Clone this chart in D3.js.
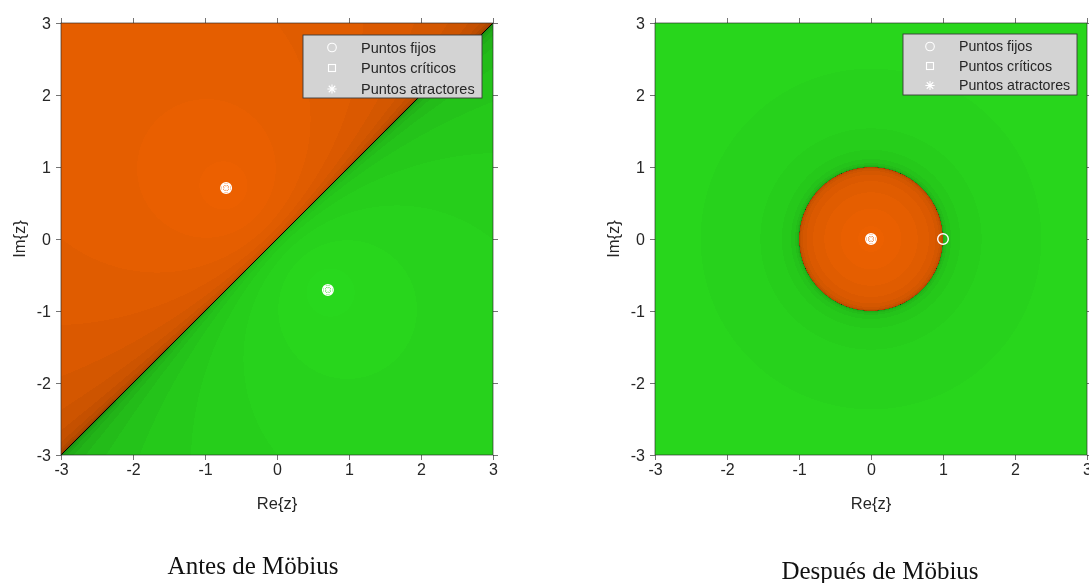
<!DOCTYPE html>
<html>
<head>
<meta charset="utf-8">
<script src="https://cdn.jsdelivr.net/npm/d3@7"></script>
<style>
  body { margin: 0; background: #fff; }
  #wrap { position: relative; width: 1089px; height: 583px; overflow: hidden; background: #fff; }
  #wrap canvas, #wrap svg { position: absolute; left: 0; top: 0; }
</style>
</head>
<body>
<div id="wrap">
  <canvas id="basins" width="1089" height="583"></canvas>
  <svg id="chart" width="1089" height="583"></svg>
</div>
<script>
// ---- data ---------------------------------------------------------------
const tickValues = [-3, -2, -1, 0, 1, 2, 3];
const tickLabels = ["-3", "-2", "-1", "0", "1", "2", "3"];
const planeDomain = [-3, 3];
const gridSize = 432;                 // samples per axis of the complex grid
const tolerance = 1e-6;               // convergence test
const maxIter = 40;

// roots of p(z) = z^2 + i
const roots = [[-Math.SQRT1_2, Math.SQRT1_2], [Math.SQRT1_2, -Math.SQRT1_2]];

// basin colours: [0] orange, [1] green (full brightness)
const basinColors = [[240, 98, 0], [41, 220, 29]];
const dimRate = 0.0018;               // brightness loss ~ iterations^2

// special points before the transformation (Newton operator of z^2 + i)
const fixedBefore = [[-0.707, 0.707], [0.707, -0.707]];
const criticalBefore = [[-0.707, 0.707], [0.707, -0.707]];
const attractorsBefore = [[-0.707, 0.707], [0.707, -0.707]];

// special points after the transformation (operator w -> w^2)
const fixedAfter = [[0, 0], [1, 0]];
const criticalAfter = [[0, 0]];
const attractorsAfter = [[0, 0]];

const legendLabels = ["Puntos fijos", "Puntos críticos", "Puntos atractores"];
const titles = ["Antes de Möbius", "Después de Möbius"];

// ---- iteration schemes ----------------------------------------------------
const tol2 = tolerance * tolerance;

// Newton's method on z^2 + i: returns [basin index, iterations]
function newtonBefore(x, y) {
  let zr = x, zi = y;
  for (let n = 0; n <= maxIter; n++) {
    for (let k = 0; k < roots.length; k++) {
      const dr = zr - roots[k][0], di = zi - roots[k][1];
      if (dr * dr + di * di < tol2) return [k, n];
    }
    if (n === maxIter) break;
    const ar = zr * zr - zi * zi, ai = 2 * zr * zi + 1;   // z^2 + i
    const br = 2 * zr, bi = 2 * zi;                       // 2z
    const den = br * br + bi * bi;
    if (den === 0) return [-1, maxIter];
    const qr = (ar * br + ai * bi) / den;
    const qi = (ai * br - ar * bi) / den;
    zr -= qr; zi -= qi;
  }
  return [-1, maxIter];
}

// conjugated operator w -> w^2 : basin 0 -> 0 (orange), infinity (green)
function squareAfter(x, y) {
  let wr = x, wi = y;
  const big = 1 / tolerance;
  for (let n = 0; n <= maxIter; n++) {
    const m = wr * wr + wi * wi;
    if (m < tol2) return [0, n];
    if (m > big * big) return [1, n];
    if (n === maxIter) break;
    const nr = wr * wr - wi * wi, ni = 2 * wr * wi;
    wr = nr; wi = ni;
  }
  return [-1, maxIter];
}

// ---- layout ---------------------------------------------------------------
const panels = [
  { x0: 61,  x1: 493,  iterate: newtonBefore, fixed: fixedBefore, critical: criticalBefore,
    attract: attractorsBefore, title: titles[0], titleX: 253, titleY: 574,
    legend: { x: 303, y: 35, w: 179, h: 63, mx: 332, tx: 361, rows: [47.5, 68, 89], fs: 14.5 } },
  { x0: 655, x1: 1087, iterate: squareAfter, fixed: fixedAfter, critical: criticalAfter,
    attract: attractorsAfter, title: titles[1], titleX: 880, titleY: 579,
    legend: { x: 903, y: 34, w: 174, h: 61, mx: 930, tx: 959, rows: [46.5, 66, 85.5], fs: 14.2 } }
];
const yTop = 23, yBottom = 455;
const axisColor = "#262626";
const sans = "'Liberation Sans', Arial, Helvetica, sans-serif";

const grid = d3.range(gridSize).map(i => planeDomain[0] + (planeDomain[1] - planeDomain[0]) * i / (gridSize - 1));

const ctx = document.getElementById("basins").getContext("2d");
const svg = d3.select("#chart");

panels.forEach(p => {
  const xs = d3.scaleLinear().domain(planeDomain).range([p.x0, p.x1]);
  const ys = d3.scaleLinear().domain(planeDomain).range([yBottom, yTop]);

  // iterate every grid point and paint it into its cell
  const w = Math.round(p.x1 - p.x0), h = Math.round(yBottom - yTop);
  const img = ctx.createImageData(w, h);
  const colIndex = d3.scaleLinear().domain(planeDomain).range([0, w - 1]);
  const rowIndex = d3.scaleLinear().domain(planeDomain).range([h - 1, 0]);
  for (let j = 0; j < gridSize; j++) {
    const r = Math.round(rowIndex(grid[j]));
    for (let i = 0; i < gridSize; i++) {
      const c = Math.round(colIndex(grid[i]));
      const [k, n] = p.iterate(grid[i], grid[j]);
      const o = 4 * (r * w + c);
      if (k < 0) {
        img.data[o] = 0; img.data[o + 1] = 0; img.data[o + 2] = 0;
      } else {
        const f = Math.max(0, 1 - dimRate * n * n);
        img.data[o] = basinColors[k][0] * f;
        img.data[o + 1] = basinColors[k][1] * f;
        img.data[o + 2] = basinColors[k][2] * f;
      }
      img.data[o + 3] = 255;
    }
  }
  ctx.putImageData(img, p.x0, yTop);

  const g = svg.append("g");

  // axes frame and outward ticks on all four sides
  g.append("rect").attr("x", p.x0).attr("y", yTop)
    .attr("width", p.x1 - p.x0).attr("height", yBottom - yTop)
    .attr("fill", "none").attr("stroke", axisColor).attr("stroke-width", 0.8).attr("opacity", 0.8);

  const fmt = d => tickLabels[tickValues.indexOf(d)];
  const bottom = d3.axisBottom(xs).tickValues(tickValues).tickSize(5).tickSizeOuter(0).tickPadding(4).tickFormat(fmt);
  const top = d3.axisTop(xs).tickValues(tickValues).tickSize(5).tickSizeOuter(0).tickFormat("");
  const left = d3.axisLeft(ys).tickValues(tickValues).tickSize(5).tickSizeOuter(0).tickPadding(5).tickFormat(fmt);
  const right = d3.axisRight(ys).tickValues(tickValues).tickSize(5).tickSizeOuter(0).tickFormat("");

  const styleAxis = sel => {
    sel.select(".domain").remove();
    sel.selectAll("line").attr("stroke", axisColor).attr("stroke-width", 0.8).attr("opacity", 0.8);
    sel.selectAll("text").attr("fill", axisColor).style("font-family", sans).style("font-size", "16px");
  };
  g.append("g").attr("transform", `translate(0,${yBottom})`).call(bottom).call(styleAxis);
  g.append("g").attr("transform", `translate(0,${yTop})`).call(top).call(styleAxis);
  g.append("g").attr("transform", `translate(${p.x0},0)`).call(left).call(styleAxis);
  g.append("g").attr("transform", `translate(${p.x1},0)`).call(right).call(styleAxis);

  // axis labels
  g.append("text").attr("x", xs(0)).attr("y", 509).attr("text-anchor", "middle")
    .attr("fill", axisColor).style("font-family", sans).style("font-size", "16.5px").text("Re{z}");
  g.append("text").attr("transform", `translate(${p.x0 - 36},${ys(0)}) rotate(-90)`)
    .attr("text-anchor", "middle").attr("fill", axisColor)
    .style("font-family", sans).style("font-size", "16.5px").text("Im{z}");

  // marker glyphs
  const drawCircle = (sel, x, y, r, sw) => sel.append("circle").attr("cx", x).attr("cy", y).attr("r", r)
    .attr("fill", "none").attr("stroke", "#fff").attr("stroke-width", sw);
  const drawSquare = (sel, x, y, s, sw) => sel.append("rect").attr("x", x - s / 2).attr("y", y - s / 2)
    .attr("width", s).attr("height", s).attr("fill", "none").attr("stroke", "#fff").attr("stroke-width", sw);
  const drawStar = (sel, x, y, a, sw) => {
    const d = a * Math.SQRT1_2;
    sel.append("path")
      .attr("d", `M${x - a},${y}H${x + a}M${x},${y - a}V${y + a}M${x - d},${y - d}L${x + d},${y + d}M${x - d},${y + d}L${x + d},${y - d}`)
      .attr("stroke", "#fff").attr("stroke-width", sw).attr("fill", "none");
  };

  const marks = g.append("g");
  p.fixed.forEach(d => drawCircle(marks, xs(d[0]), ys(d[1]), 5.3, 1.4));
  p.critical.forEach(d => drawSquare(marks, xs(d[0]), ys(d[1]), 7, 1.3));
  p.attract.forEach(d => drawStar(marks, xs(d[0]), ys(d[1]), 4.5, 1.2));

  // legend
  const L = p.legend;
  const lg = g.append("g");
  lg.append("rect").attr("x", L.x).attr("y", L.y).attr("width", L.w).attr("height", L.h)
    .attr("fill", "#d3d3d3").attr("stroke", "#3a3a3a").attr("stroke-width", 0.9);
  drawCircle(lg, L.mx, L.rows[0], 4.3, 1.1);
  drawSquare(lg, L.mx, L.rows[1], 7, 1.1);
  drawStar(lg, L.mx, L.rows[2], 4.6, 1.1);
  legendLabels.forEach((t, i) => {
    lg.append("text").attr("x", L.tx).attr("y", L.rows[i]).attr("dy", "0.35em")
      .attr("fill", "#262626").style("font-family", sans).style("font-size", L.fs + "px").text(t);
  });

  // panel caption
  svg.append("text").attr("x", p.titleX).attr("y", p.titleY).attr("text-anchor", "middle")
    .attr("fill", "#111").style("font-family", "'Liberation Serif', 'Times New Roman', serif")
    .style("font-size", "25px").text(p.title);
});
</script>
</body>
</html>
